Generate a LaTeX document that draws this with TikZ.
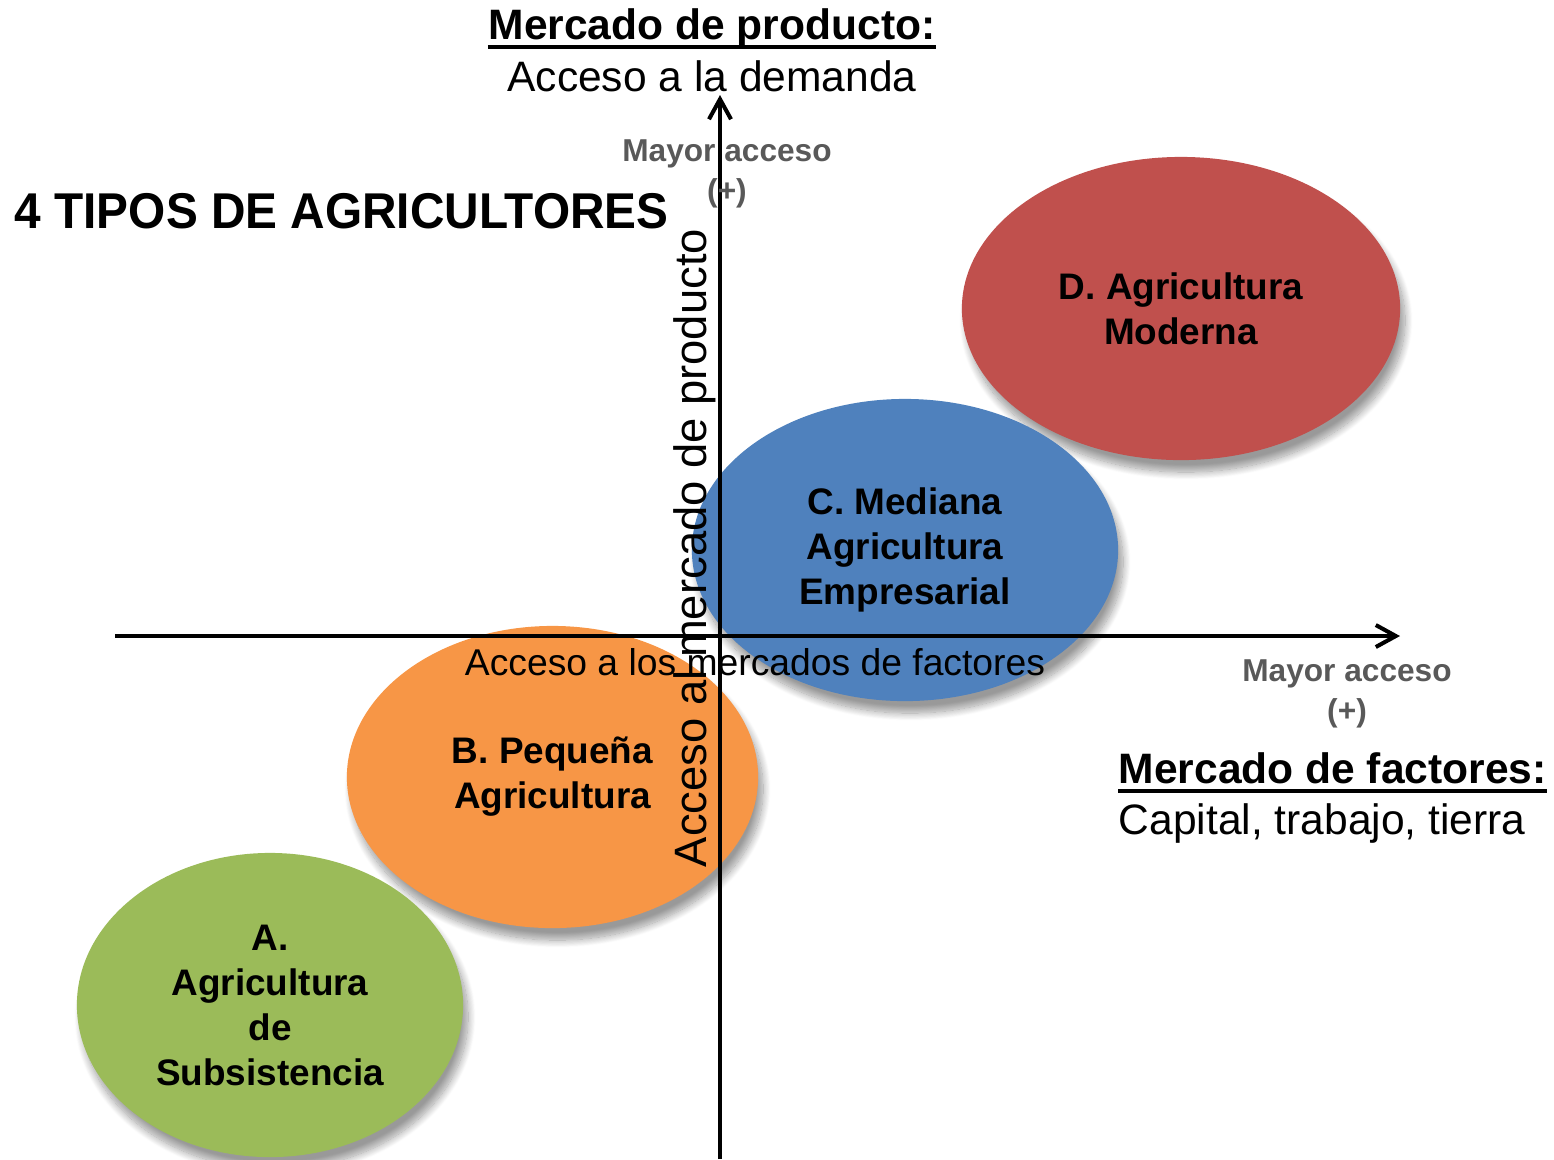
\documentclass[tikz,border=0pt]{standalone}
\usepackage{fontspec}
\setmainfont{Liberation Sans}
\usetikzlibrary{shapes.geometric,arrows.meta,shadows.blur}
\definecolor{cRed}{HTML}{C0504D}
\definecolor{cBlue}{HTML}{4F81BD}
\definecolor{cOrange}{HTML}{F79646}
\definecolor{cGreen}{HTML}{9BBB59}
\definecolor{cGray}{HTML}{595959}
\tikzset{
  blob/.style={ellipse, inner sep=0pt, align=center, font=\fontsize{10.5pt}{12.8pt}\selectfont\bfseries,
    blur shadow={shadow xshift=0.5mm, shadow yshift=-1.2mm, shadow blur steps=14, shadow opacity=40}},
  axis/.style={line width=1.15pt, -{Straight Barb[length=2.0mm,width=2.2mm,line width=1.15pt]}},
  gray/.style={text=cGray, font=\fontsize{9pt}{11.4pt}\selectfont\bfseries, align=center, inner sep=0pt},
  ttl/.style={font=\fontsize{12.1pt}{13pt}\selectfont\bfseries, inner sep=0pt, anchor=base},
  sub/.style={font=\fontsize{12.1pt}{13pt}\selectfont, inner sep=0pt, anchor=base},
  ul/.style={line width=1.1pt},
}
\begin{document}
\begin{tikzpicture}[x=0.01cm,y=-0.01cm]
\useasboundingbox (0,0) rectangle (1554,1159);
% ellipses
\node[blob, fill=cRed, minimum width=4.38cm, minimum height=3.03cm] (D) at (1181,308.5) {D. Agricultura\\Moderna};
\node[blob, fill=cBlue, minimum width=4.26cm, minimum height=3.02cm] (C) at (905,550) {C. Mediana\\Agricultura\\Empresarial};
\node[blob, fill=cOrange, minimum width=4.11cm, minimum height=3.02cm] (B) at (552.5,777) {B. Pequeña\\Agricultura};
\node[blob, fill=cGreen, minimum width=3.86cm, minimum height=3.04cm] (A) at (270,1005) {A.\\Agricultura\\de\\Subsistencia};
% axes
\coordinate (xs) at (115,636);
\coordinate (xe) at (1400,636);
\coordinate (ys) at (720,1159);
\coordinate (ye) at (720,95);
\draw[axis] (xs) -- (xe);
\draw[axis] (ys) -- (ye);
% axis labels
\node[font=\fontsize{10.6pt}{12pt}\selectfont, inner sep=0pt] (xl) at (755,662) {Acceso a los mercados de factores};
\node[font=\fontsize{12.9pt}{14pt}\selectfont, inner sep=0pt, rotate=90] (yl) at (695,548) {Acceso al mercado de producto};
% gray labels
\node[gray] (gy) at (727,174) {Mayor acceso\\(+)};
\node[gray] (gx) at (1347,694) {Mayor acceso\\(+)};
% title top
\node[ttl] (t1) at (712,39) {Mercado de producto:};
\draw[ul] ([yshift=-0.8mm]t1.base west) -- ([yshift=-0.8mm]t1.base east);
\node[sub] (t2) at (712,91) {Acceso a la demanda};
% title right
\node[ttl, anchor=base west] (r1) at (1118,783) {Mercado de factores:};
\draw[ul] ([yshift=-0.8mm]r1.base west) -- ([yshift=-0.8mm]r1.base east);
\node[sub, anchor=base west] (r2) at (1118,834) {Capital, trabajo, tierra};
% main title
\node[inner sep=0pt, anchor=base west, font=\fontsize{14.3pt}{16pt}\selectfont\bfseries] (mt) at (14,228) {\scalebox{0.95}[1]{4 TIPOS DE AGRICULTORES}};
\end{tikzpicture}
\end{document}
